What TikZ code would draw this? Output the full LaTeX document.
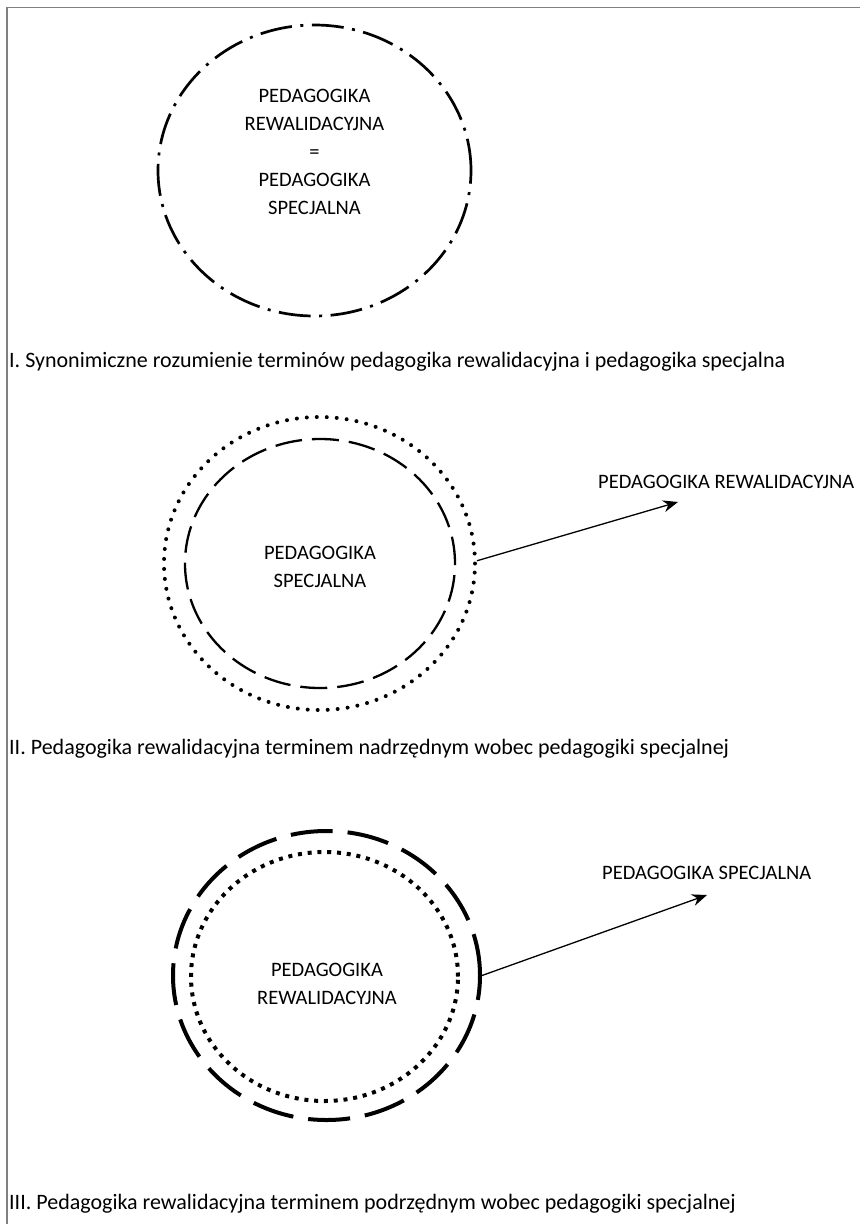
\documentclass[tikz,border=0pt]{standalone}
\usepackage{fontspec}
\setmainfont{Carlito}
\usetikzlibrary{shapes.geometric,arrows.meta}
\begin{document}
\begin{tikzpicture}[x=1pt,y=-1pt,
  txt/.style={font=\fontsize{20.5}{28}\selectfont, inner sep=0pt, align=center},
  lbl/.style={font=\fontsize{20.5}{28}\selectfont, inner sep=0pt, anchor=base west},
  caption/.style={font=\fontsize{22}{28}\selectfont, inner sep=0pt, anchor=base west},
  ring/.style={ellipse, inner sep=0pt, draw=black},
  dashdotring/.style={ring, line width=2.7pt, dash pattern=on 32pt off 8.5pt on 3pt off 8.5pt},
  dotring/.style={ring, line width=4pt, line cap=round, dash pattern=on 0pt off 10pt},
  dashring/.style={ring, line width=2.3pt, dash pattern=on 27pt off 10pt},
  longdashring/.style={ring, line width=4pt, dash pattern=on 42pt off 15pt},
  sqdotring/.style={ring, line width=4pt, dash pattern=on 4pt off 5.8pt},
  conn/.style={line width=1.3pt, -{Stealth[length=15pt, width=12pt, inset=5pt]}},
  frameline/.style={draw=black!50, line width=1.5pt}]
\useasboundingbox (0,0) rectangle (860,1224);

% frame edges
\draw[frameline] (7,1224) -- (7,7.5) -- (860,7.5);

% I. synonymous terms
\node[dashdotring, minimum width=313pt, minimum height=291pt] (c1) at (314.5,170.5) {};
\node[txt] (t1) at (314.5,151.5) {PEDAGOGIKA\\REWALIDACYJNA\\=\\PEDAGOGIKA\\SPECJALNA};
\node[caption] (cap1) at (9,367) {I.\ Synonimiczne rozumienie terminów pedagogika rewalidacyjna i pedagogika specjalna};

% II. rewalidacyjna as the wider term
\node[dotring, minimum width=311pt, minimum height=293pt] (c2out) at (319.5,563.5) {};
\node[dashring, minimum width=270pt, minimum height=249pt] (c2in) at (320,563.5) {};
\node[txt] (t2) at (320,567) {PEDAGOGIKA\\SPECJALNA};
\node[lbl] (l2) at (598,488.6) {PEDAGOGIKA REWALIDACYJNA};
\coordinate (a2) at (678,502);
\draw[conn] (c2out.1.5) -- (a2);
\node[caption] (cap2) at (9,754) {II.\ Pedagogika rewalidacyjna terminem nadrzędnym wobec pedagogiki specjalnej};

% III. rewalidacyjna as the narrower term
\node[longdashring, minimum width=307pt, minimum height=289pt] (c3out) at (326.5,975.5) {};
\node[sqdotring, minimum width=267pt, minimum height=249pt] (c3in) at (324.5,976.5) {};
\node[txt] (t3) at (327,984) {PEDAGOGIKA\\REWALIDACYJNA};
\node[lbl] (l3) at (602,879.6) {PEDAGOGIKA SPECJALNA};
\coordinate (a3) at (707,895);
\draw[conn] (c3out.east) -- (a3);
\node[caption] (cap3) at (9,1209) {III.\ Pedagogika rewalidacyjna terminem podrzędnym wobec pedagogiki specjalnej};
\end{tikzpicture}
\end{document}
